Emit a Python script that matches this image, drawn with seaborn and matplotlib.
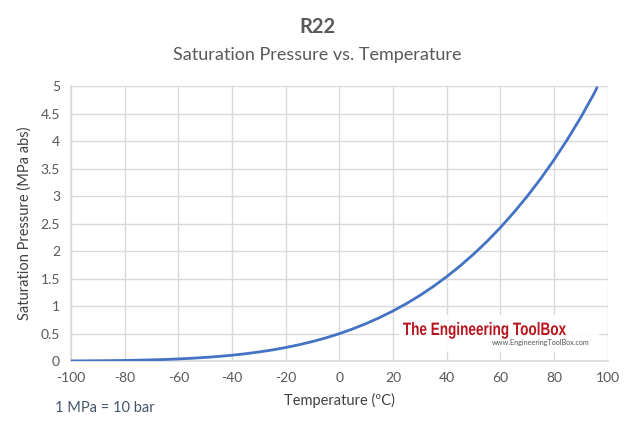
import matplotlib
matplotlib.use("Agg")
import matplotlib.pyplot as plt
import seaborn as sns
import pandas as pd
from matplotlib.textpath import TextPath
from matplotlib.patches import PathPatch, Rectangle
from matplotlib.font_manager import FontProperties
from matplotlib.transforms import Affine2D

# R22 saturation pressure (MPa abs)
temperature_c = [-100, -95, -90, -85, -80, -75, -70, -65, -60, -55, -50, -45,
                 -40, -35, -30, -25, -20, -15, -10, -5, 0, 5, 10, 15, 20, 25,
                 30, 35, 40, 45, 50, 55, 60, 65, 70, 75, 80, 85, 90, 95, 96]
pressure_mpa = [0.002, 0.003, 0.005, 0.007, 0.010, 0.015, 0.021, 0.028, 0.038,
                0.050, 0.065, 0.083, 0.105, 0.132, 0.164, 0.201, 0.245, 0.296,
                0.354, 0.421, 0.498, 0.584, 0.681, 0.790, 0.910, 1.044, 1.192,
                1.355, 1.534, 1.729, 1.942, 2.174, 2.426, 2.700, 2.995, 3.314,
                3.658, 4.030, 4.432, 4.870, 4.97]

x_ticks = list(range(-100, 101, 20))
y_ticks = [0, 0.5, 1, 1.5, 2, 2.5, 3, 3.5, 4, 4.5, 5]
y_tick_labels = ["0", "0.5", "1", "1.5", "2", "2.5", "3", "3.5", "4", "4.5", "5"]

df = pd.DataFrame({"Temperature": temperature_c, "Pressure": pressure_mpa})

sns.set_theme(style="white")
plt.rcParams["font.family"] = ["Lato", "DejaVu Sans"]

tick_col = "#595959"
grid_col = "#d9d9d9"

fig = plt.figure(figsize=(6.35, 4.29), dpi=100)
ax = fig.add_axes([0.112, 0.1585, 0.845, 0.641])

sns.lineplot(data=df, x="Temperature", y="Pressure", ax=ax,
             color="#4472C4", linewidth=2, zorder=3)

ax.set_xlim(-100, 100)
ax.set_ylim(0, 5)
ax.set_xticks(x_ticks)
ax.set_xticklabels([str(t) for t in x_ticks])
ax.set_yticks(y_ticks)
ax.set_yticklabels(y_tick_labels)
ax.tick_params(axis="both", length=0, labelsize=10, colors=tick_col, pad=8)
ax.grid(True, color=grid_col, linewidth=1)
for side in ["left", "bottom"]:
    ax.spines[side].set_color(grid_col)
    ax.spines[side].set_linewidth(1.2)
ax.spines["top"].set_visible(False)
ax.spines["right"].set_visible(False)

ax.set_xlabel("Temperature (ºC)", fontsize=10.5, color="#404040", labelpad=6)
ax.set_ylabel("Saturation Pressure (MPa abs)", fontsize=10.5, color="#404040", labelpad=6)

fig.text(0.5, 0.937, "R22", ha="center", va="center", fontsize=14.5,
         fontweight="bold", color="#595959")
fig.text(0.5, 0.872, "Saturation Pressure vs. Temperature", ha="center", va="center",
         fontsize=13, color="#595959")
fig.text(0.087, 0.050, "1 MPa = 10 bar", ha="left", va="center", fontsize=10.5,
         color="#44546A")

# watermark logo (drawn in pixel coordinates, squeezed to look condensed)
H = 429
fig.patches.append(Rectangle((399, H - 352), 200, 37, facecolor="white",
                             edgecolor="none", alpha=0.88, zorder=4,
                             transform=None))
tp = TextPath((0, 0), "The Engineering ToolBox", size=18,
              prop=FontProperties(family="Liberation Sans", weight="bold"))
ext = tp.get_extents()
sx = 163 / ext.width
logo_tr = Affine2D().translate(-ext.x0, 0).scale(sx, 1.0).translate(403, H - 335)
fig.patches.append(PathPatch(tp, facecolor="#B8141D", edgecolor="none",
                             transform=logo_tr, zorder=5))
fig.text(541 / 635, 1 - 343 / H, "www.EngineeringToolBox.com", ha="center",
         va="center", fontsize=5.2, color="#555555", zorder=6)

fig.savefig("out.png", dpi=100)
